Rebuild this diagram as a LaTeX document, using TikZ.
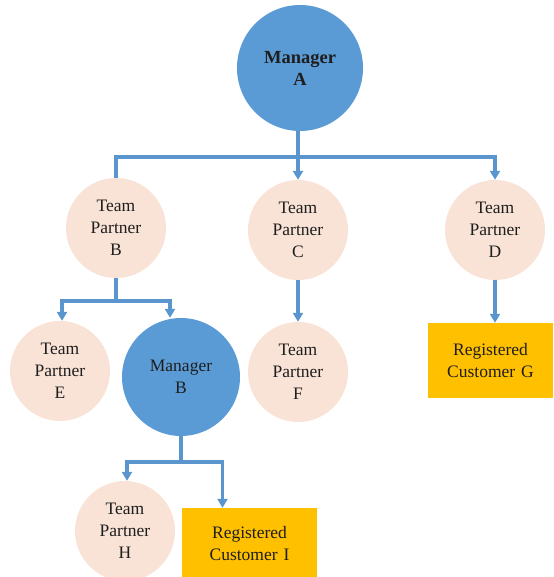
\documentclass[tikz,border=0pt]{standalone}
\usepackage{fontspec}
\setmainfont{Liberation Serif}
\usetikzlibrary{arrows.meta}
\definecolor{mgrblue}{HTML}{5B9BD5}
\definecolor{linkblue}{HTML}{5A96CD}
\definecolor{peach}{HTML}{F9E3D6}
\definecolor{gold}{HTML}{FFC000}
\definecolor{ink}{HTML}{1E1E1E}
\begin{document}
\begin{tikzpicture}[x=1pt,y=-1pt,
  every node/.style={align=center,text=ink,font=\fontsize{17.5}{22}\selectfont,inner sep=0pt},
  manager/.style={circle,fill=mgrblue,minimum size=#1},
  partner/.style={circle,fill=peach,minimum size=100pt},
  customer/.style={rectangle,fill=gold,text width=#1,minimum height=72pt},
  link/.style={draw=linkblue,line width=3.2pt},
  arr/.style={link,-{Triangle[width=10pt,length=9pt]}}]
\useasboundingbox (0,0) rectangle (553,577);

% nodes
\node[manager=126pt,font=\fontsize{18.5}{22}\selectfont\bfseries] (A) at (300,68) {Manager\\A};
\node[partner] (B) at (116,228) {Team\\Partner\\B};
\node[partner] (C) at (298,230) {Team\\Partner\\C};
\node[partner] (D) at (495,230) {Team\\Partner\\D};
\node[partner] (E) at (60,371) {Team\\Partner\\E};
\node[manager=118pt] (MB) at (181,377) {Manager\\B};
\node[partner] (F) at (298,372) {Team\\Partner\\F};
\node[customer=125pt,minimum height=75pt] (G) at (490.5,360.5) {Registered\\Customer G};
\node[partner] (H) at (125,531) {Team\\Partner\\H};
\node[customer=135pt,minimum height=72pt] (I) at (249.5,544) {Registered\\Customer I};

% branch points
\coordinate (jA) at (298,157);
\coordinate (jB) at (116,301);
\coordinate (jM) at (181,462);

% connectors from Manager A
\draw[link] (A.south -| jA) -- (jA);
\draw[link] (jA) -| (B.north);
\draw[arr] (jA) -- (C.north);
\draw[arr] (jA) -| (D.north);

% connectors from Team Partner B
\draw[link] (B.south) -- (jB);
\draw[arr] (jB) -| ([xshift=-54pt]B.south |- E.north);
\draw[arr] (jB) -| ([xshift=-11pt]MB.north);

% vertical links
\draw[arr] (C.south) -- (F.north);
\draw[arr] (D.south) -- (D.south |- G.north);

% connectors from Manager B
\draw[link] (MB.south) -- (jM);
\draw[arr] (jM) -| ([xshift=2pt]H.north);
\draw[arr] (jM) -| ([xshift=-27pt]I.north);
\end{tikzpicture}
\end{document}
